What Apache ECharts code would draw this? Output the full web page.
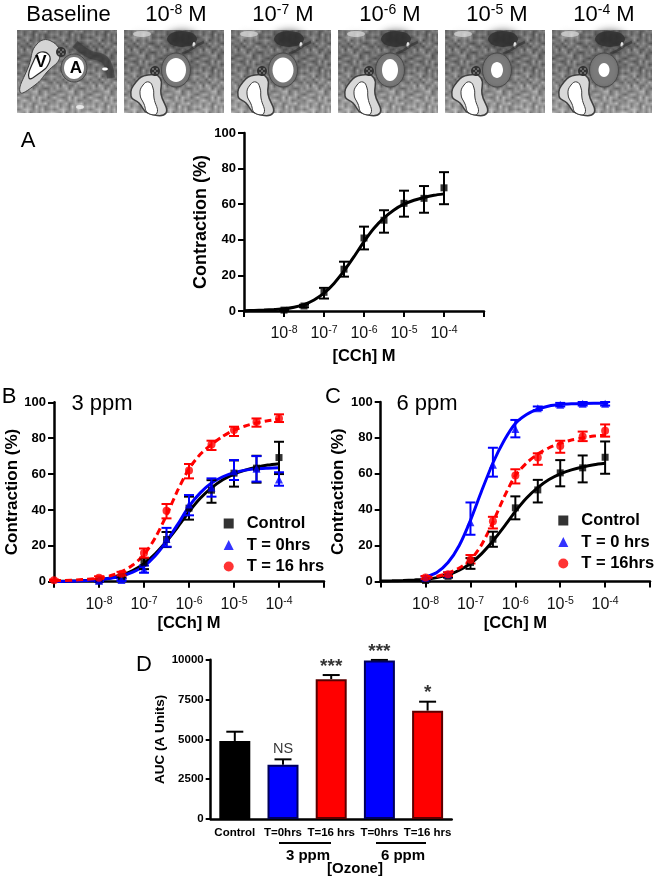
<!DOCTYPE html>
<html>
<head>
<meta charset="utf-8">
<style>html,body{margin:0;padding:0;background:#fff}#c{width:661px;height:880px}</style>
<script src="https://cdn.jsdelivr.net/npm/echarts@6/dist/echarts.min.js"></script>
</head>
<body>
<div id="c"></div>
<script>
const FONT = '"Liberation Sans", Arial, sans-serif';

// Dose points (log10 molar) and readings shared by the panels
const doseX = [-8, -7.5, -7, -6.5, -6, -5.5, -5, -4.5, -4];
const curveX = [-9, -8.75, -8.5, -8.25, -8, -7.75, -7.5, -7.25, -7, -6.75, -6.5, -6.25, -6, -5.75, -5.5, -5.25, -5, -4.75, -4.5, -4.25, -4];

const controlY  = [0.5, 2.8, 10.5, 23.5, 41, 51, 60.5, 63.3, 69.2];
const controlHi = [1, 3.5, 13, 27.7, 47.4, 56.6, 67.6, 70.2, 78];
const controlLo = [0, 2.1, 7, 19.3, 34.6, 44, 53, 55.2, 60];
const controlFit = [0.2, 0.3, 0.5, 0.8, 1.2, 2.1, 3.6, 6.2, 10, 15.5, 22.5, 30.5, 39, 46.5, 52.3, 56.8, 60, 62.2, 63.8, 65, 65.8];

// Panel B, 3 ppm
const b0X  = [-8, -7.5, -7, -6.5, -6, -5.5, -5, -4.5, -4];
const b0Y  = [0.5, 1, 7, 24, 43, 52.5, 61.5, 63, 57];
const b0Hi = [1, 1.6, 9, 30, 48.3, 57.6, 67.8, 70, 61];
const b0Lo = [0, 0.4, 5, 19.5, 37, 47.4, 56.7, 55.8, 53.5];
const b0Fit = [0.1, 0.2, 0.4, 0.7, 1.1, 1.9, 3.2, 5.4, 8.7, 14.5, 22.5, 32, 42, 49.5, 55, 58.5, 60.8, 62.2, 63, 63.3, 63.5];

const b16X  = [-9, -8, -7.5, -7, -6.5, -6, -5.5, -5, -4.5, -4];
const b16Y  = [0.8, 2.2, 4.5, 16, 39.5, 62, 76.5, 84.5, 89, 91];
const b16Hi = [1.2, 3, 5.5, 18.5, 43.3, 65.6, 78.6, 86.4, 91, 93.3];
const b16Lo = [0.4, 1.5, 3.5, 13.4, 35.3, 57.6, 73.4, 81.2, 86.4, 89];
const b16Fit = [0.5, 0.7, 1, 1.4, 2, 3.3, 5.5, 9.3, 15, 24.5, 37, 51, 63, 71, 76.5, 81, 84.5, 86.8, 88.5, 89.7, 90.5];

// Panel C, 6 ppm
const c0X  = [-8, -7.5, -7, -6.5, -6, -5.5, -5, -4.5, -4];
const c0Y  = [2, 4, 33, 65, 85, 96.5, 98.5, 99, 99];
const c0Hi = [2.8, 5, 44, 74.5, 90, 97.5, 99.5, 100, 100];
const c0Lo = [1.2, 3, 26, 58.4, 80.3, 95.5, 97.5, 98, 98];
const c0FitX = [-8, -7.75, -7.5, -7.25, -7, -6.75, -6.5, -6.25, -6, -5.75, -5.5, -5.25, -5, -4.75, -4.5, -4.25, -3.93];
const c0Fit = [2.5, 5, 10.5, 20, 34, 50.5, 66, 78.5, 88, 93, 96, 97.8, 98.6, 99, 99.2, 99.3, 99.3];

const c16X  = [-8, -7.5, -7, -6.5, -6, -5.5, -5, -4.5, -4];
const c16Y  = [2.2, 4, 12, 33.5, 59, 69, 75.5, 80.8, 84];
const c16Hi = [3, 5, 14.7, 36, 62.5, 71.4, 78.4, 83.5, 87.5];
const c16Lo = [1.4, 3, 10, 29.5, 54.6, 65, 71.7, 78.2, 80.7];
const c16FitX = [-8, -7.75, -7.5, -7.25, -7, -6.75, -6.5, -6.25, -6, -5.75, -5.5, -5.25, -5, -4.75, -4.5, -4.25, -4];
const c16Fit = [1.8, 2.8, 4.5, 7.5, 12, 20.5, 33, 47, 59, 66, 71, 74.5, 77, 78.8, 80, 81, 81.5];

// Panel D
const barCats = ['Control', 'T=0hrs', 'T=16 hrs', 'T=0hrs', 'T=16 hrs'];
const barVals = [4900, 3400, 8780, 9950, 6800];
const barErrs = [5480, 3745, 9037, 9985, 7364];
const barMarks = ['', 'NS', '***', '***', '*'];
const barColors = ['#000000', '#0000ff', '#ff0000', '#0000ff', '#ff0000'];
const barEdges = ['#000000', '#00005a', '#5a0000', '#00005a', '#5a0000'];

// Header labels
const doseExponents = ['-8', '-7', '-6', '-5', '-4'];
const arterySizes = [[10, 12], [10.5, 12.5], [8, 11], [6, 8], [5.5, 7]];

const BLUE = '#0000ff', RED = '#ff0000', BLACK = '#000000';

function zip(a, b) { return a.map((v, i) => [v, b[i]]); }
function zip3(a, b, c) { return a.map((v, i) => [v, b[i], c[i]]); }

function tile() {
  const rows = ['6a48c25b9e37','9d3a71f4826c','27be93a5d148','c85f16a3b79e','4a92d7e8316b','b3671c95fa42',
                '8e1fa43c6d97','5c79e2b8413a','a4368df17c59','17cb59a36e84','d8625f3e9a17','3ae94b7c2586'];
  const n = rows.length, scale = 3;
  const small = document.createElement('canvas');
  small.width = small.height = n * 3;
  const s = small.getContext('2d');
  for (let oy = 0; oy < 3; oy++) for (let ox = 0; ox < 3; ox++) {
    rows.forEach((r, y) => r.split('').forEach((h, x) => {
      const v = 78 + parseInt(h, 16) * 7;
      s.fillStyle = 'rgb(' + v + ',' + v + ',' + v + ')';
      s.fillRect(ox * n + x, oy * n + y, 1, 1);
    }));
  }
  const cv = document.createElement('canvas');
  cv.width = cv.height = n * scale;
  const g = cv.getContext('2d');
  g.imageSmoothingEnabled = true;
  g.drawImage(small, -n * scale, -n * scale, 3 * n * scale, 3 * n * scale);
  return cv;
}
const TEX = { image: tile(), repeat: 'repeat' };

function ell(cx, cy, rx, ry, fill, extra) {
  return Object.assign({ type: 'ellipse', shape: { cx, cy, rx, ry }, style: { fill } }, extra || {});
}
function poly(points, fill, stroke, w, blur) {
  return { type: 'polygon', shape: { points, smooth: 0.5 },
    style: { fill, stroke, lineWidth: w || 0, shadowColor: blur ? fill : 'transparent', shadowBlur: blur || 0 } };
}
function soft(fill, opacity, blur) { return { style: { fill, opacity, shadowColor: fill, shadowBlur: blur } }; }
function band(points, width, opacity) {
  return { type: 'polyline', shape: { points, smooth: 0.4 },
    style: { stroke: '#333333', lineWidth: width, fill: 'none', opacity, shadowColor: '#333', shadowBlur: 5 } };
}
function nerve(x, y) {
  return [ell(x, y, 5, 5, '#333333')].concat([[-2, -2], [2, -2], [-2, 2], [2, 2], [0, 0]].map(
    d => ell(x + d[0], y + d[1], 0.8, 0.8, '#b5b5b5')));
}
function panelBase() {
  return [
    { type: 'rect', shape: { x: 0, y: 0, width: 100, height: 83 }, style: { fill: TEX } },
    { type: 'rect', shape: { x: 0, y: 0, width: 100, height: 83 }, style: { fill: {
      type: 'linear', x: 0, y: 0, x2: 0, y2: 1,
      colorStops: [{ offset: 0, color: 'rgba(70,70,70,0.3)' }, { offset: 0.45, color: 'rgba(70,70,70,0.25)' }, { offset: 1, color: 'rgba(255,255,255,0.2)' }] } } }
  ];
}
function micrograph(x, y, art) {
  const kids = panelBase().concat([
    ell(58, 9, 15, 8, '#2e2e2e', soft('#2e2e2e', 0.8, 8)),
    ell(18, 4, 9, 3, '#e0e0e0', soft('#e0e0e0', 0.65, 6)),
    ell(70, 15, 1.5, 3, '#ffffff'),
    band([[58, 24], [66, 20], [72, 16], [80, 12]], 2.5, 0.7),
    ell(52, 40, 14.5, 17, '#7a7a7a', { style: { fill: '#7a7a7a', stroke: '#4a4a4a', lineWidth: 1, shadowColor: '#555', shadowBlur: 3 } }),
    ell(52, 40, art[0], art[1], '#ffffff'),
    poly([[7, 66], [12, 52], [24, 45], [36, 48], [37, 64], [42, 83], [24, 83], [15, 73]], '#d8d8d8', '#404040', 1.5),
    poly([[16, 64], [19, 55], [25, 52], [29, 58], [30, 68], [33, 83], [24, 83], [20, 74]], '#ffffff', '#3a3a3a', 1)
  ]).concat(nerve(31, 41));
  return { type: 'group', x, y, children: kids };
}
function baselinePanel(x, y) {
  const kids = panelBase().concat([
    band([[58, 14], [72, 24], [88, 30], [94, 48]], 8, 0.55),
    ell(88, 39, 3, 1.5, '#ffffff'),
    ell(63, 77, 4, 2, '#e8e8e8', soft('#e8e8e8', 1, 3)),
    poly([[3, 62], [12, 35], [20, 14], [34, 11], [43, 26], [30, 42], [18, 55]], '#d4d4d4', '#444444', 1),
    poly([[12, 48], [18, 28], [24, 22], [32, 25], [32, 33], [24, 42]], '#ffffff', '#2a2a2a', 1.2),
    ell(57, 38, 13, 14, '#7a7a7a', { style: { fill: '#7a7a7a', stroke: '#4a4a4a', lineWidth: 1 } }),
    ell(57, 38, 10, 11, '#ffffff')
  ]).concat(nerve(44, 22)).concat([
    { type: 'text', style: { text: 'V', x: 24, y: 32, align: 'center', verticalAlign: 'middle', font: 'bold 17px ' + FONT, fill: '#000' } },
    { type: 'text', style: { text: 'A', x: 59, y: 38, align: 'center', verticalAlign: 'middle', font: 'bold 17px ' + FONT, fill: '#000' } }
  ]);
  return { type: 'group', x, y, children: kids };
}
function plainText(text, x, y, size, weight) {
  return { type: 'text', style: { text, x, y, align: 'center', verticalAlign: 'middle', font: (weight || 'normal') + ' ' + size + 'px ' + FONT, fill: '#000' } };
}
function powerText(exp, x, y) {
  return { type: 'text', style: { text: '{a|10}{b|' + exp + '}{a| M}', x, y, align: 'center', verticalAlign: 'middle',
    rich: { a: { fontSize: 22, fontFamily: FONT, fill: '#000', lineHeight: 24 },
            b: { fontSize: 14, fontFamily: FONT, fill: '#000', verticalAlign: 'top', lineHeight: 16 } } } };
}

function xAxisFor(gridIndex, nameGap) {
  return {
    type: 'value', gridIndex, min: -9, max: -3, interval: 1, name: '[CCh] M', nameLocation: 'middle', nameGap,
    nameTextStyle: { fontFamily: FONT, fontWeight: 'bold', fontSize: 16.5, color: '#000' },
    axisLine: { onZero: false, lineStyle: { color: '#000', width: 2.5 } },
    axisTick: { length: 6, lineStyle: { color: '#000', width: 2 } },
    splitLine: { show: false },
    axisLabel: {
      margin: 14, showMinLabel: true, showMaxLabel: true,
      formatter: v => (v > -9 && v < -3) ? '{a|10}{b|' + v + '}' : '',
      rich: { a: { fontSize: 16, fontFamily: FONT, color: '#111', lineHeight: 18 },
              b: { fontSize: 10.5, fontFamily: FONT, color: '#111', verticalAlign: 'top', lineHeight: 14 } }
    }
  };
}
function yAxisFor(gridIndex, name, nameGap, nameSize) {
  return {
    type: 'value', gridIndex, min: 0, max: 100, interval: 20, name, nameLocation: 'middle', nameGap,
    nameTextStyle: { fontFamily: FONT, fontWeight: 'bold', fontSize: nameSize, color: '#000' },
    axisLine: { show: true, onZero: false, lineStyle: { color: '#000', width: 2.5 } },
    axisTick: { show: true, length: 6, lineStyle: { color: '#000', width: 2 } },
    splitLine: { show: false },
    axisLabel: { margin: 8, fontFamily: FONT, fontWeight: 'bold', fontSize: 13, color: '#000' }
  };
}
function errorBars(ax, x, lo, hi, color) {
  return {
    type: 'custom', xAxisIndex: ax, yAxisIndex: ax, clip: false, silent: true, z: 3,
    data: zip3(x, lo, hi), encode: { x: 0, y: [1, 2] },
    renderItem(p, api) {
      const l = api.coord([api.value(0), api.value(1)]), h = api.coord([api.value(0), api.value(2)]);
      const st = { stroke: color, lineWidth: 2, fill: 'none' };
      const line = (x1, y1, x2, y2) => ({ type: 'line', shape: { x1, y1, x2, y2 }, style: st });
      return { type: 'group', children: [
        line(l[0], l[1], h[0], h[1]), line(l[0] - 5, l[1], l[0] + 5, l[1]), line(h[0] - 5, h[1], h[0] + 5, h[1])
      ] };
    }
  };
}
function fit(ax, x, y, color, dashed, name) {
  return { type: 'line', name, xAxisIndex: ax, yAxisIndex: ax, data: zip(x, y), showSymbol: false, smooth: 0.25, clip: false, z: 2,
    lineStyle: { color, width: 3, type: dashed ? [7, 4] : 'solid' } };
}
function dots(ax, name, x, y, color, symbol, size) {
  return { type: 'scatter', name, xAxisIndex: ax, yAxisIndex: ax, data: zip(x, y), symbol, symbolSize: size, clip: false, z: 4, itemStyle: { color } };
}
function group(ax, name, x, y, lo, hi, fitX, fitY, color, symbol, size, dashed) {
  return [
    fit(ax, fitX, fitY, color, dashed, name + ' fit'),
    errorBars(ax, x, lo, hi, color),
    dots(ax, name, x, y, color, symbol, size)
  ];
}
function legendFor(left, top, names) {
  return { orient: 'vertical', left, top, itemWidth: 10, itemHeight: 10, itemGap: 4.5, data: names, selectedMode: false,
    textStyle: { fontFamily: FONT, fontWeight: 'bold', fontSize: 16.5, color: '#000', padding: [0, 0, 0, 8] } };
}

const chart = echarts.init(document.getElementById('c'), null, { renderer: 'canvas' });
const series = [].concat(
  group(0, 'Control', doseX, controlY, controlLo, controlHi, curveX, controlFit, BLACK, 'rect', 7, false),
  group(1, 'Control', doseX, controlY, controlLo, controlHi, curveX, controlFit, BLACK, 'rect', 7, false),
  group(1, 'T = 0hrs', b0X, b0Y, b0Lo, b0Hi, curveX, b0Fit, BLUE, 'triangle', 8, false),
  group(1, 'T = 16 hrs', b16X, b16Y, b16Lo, b16Hi, curveX, b16Fit, RED, 'circle', 8, true),
  group(2, 'Control', doseX, controlY, controlLo, controlHi, curveX, controlFit, BLACK, 'rect', 7, false),
  group(2, 'T = 0 hrs', c0X, c0Y, c0Lo, c0Hi, c0FitX, c0Fit, BLUE, 'triangle', 8, false),
  group(2, 'T = 16hrs', c16X, c16Y, c16Lo, c16Hi, c16FitX, c16Fit, RED, 'circle', 8, true),
  [
    { type: 'bar', name: 'AUC', xAxisIndex: 3, yAxisIndex: 3, barWidth: 31, z: 2,
      data: barVals.map((v, i) => ({ value: v, itemStyle: { color: barColors[i], borderColor: barEdges[i], borderWidth: 2 } })) },
    { type: 'custom', xAxisIndex: 3, yAxisIndex: 3, clip: false, silent: true, z: 1,
      data: barVals.map((v, i) => [i, v, barErrs[i]]), encode: { x: 0, y: [1, 2] },
      renderItem(p, api) {
        const b = api.coord([api.value(0), api.value(1)]), t = api.coord([api.value(0), api.value(2)]);
        const st = { stroke: '#000', lineWidth: 2, fill: 'none' };
        return { type: 'group', children: [
          { type: 'line', shape: { x1: b[0], y1: b[1], x2: t[0], y2: t[1] }, style: st },
          { type: 'line', shape: { x1: t[0] - 8.5, y1: t[1], x2: t[0] + 8.5, y2: t[1] }, style: st }
        ] };
      } },
    { type: 'scatter', xAxisIndex: 3, yAxisIndex: 3, symbolSize: 0, silent: true, z: 5,
      data: barErrs.map((v, i) => ({
        value: [i, v],
        label: { show: barMarks[i] !== '', position: 'top', distance: barMarks[i] === 'NS' ? 3 : -1, formatter: barMarks[i],
          fontFamily: FONT, color: '#000', fontSize: barMarks[i] === 'NS' ? 14.5 : 19, fontWeight: barMarks[i] === 'NS' ? 'normal' : 'bold' }
      })) }
  ]
);

chart.setOption({
  animation: false,
  backgroundColor: '#ffffff',
  grid: [
    { left: 244, top: 133, width: 240, height: 178 },
    { left: 54, top: 402.3, width: 270, height: 179.4 },
    { left: 380.7, top: 402, width: 269.3, height: 179.4 },
    { left: 210.7, top: 659.7, width: 241, height: 159.3 }
  ],
  xAxis: [
    xAxisFor(0, 37), xAxisFor(1, 33), xAxisFor(2, 34),
    { type: 'category', gridIndex: 3, data: barCats,
      axisLine: { onZero: false, lineStyle: { color: '#000', width: 2.5 } },
      axisTick: { alignWithLabel: true, length: 5, lineStyle: { color: '#000', width: 2 } },
      axisLabel: { interval: 0, margin: 8, fontFamily: FONT, fontWeight: 'bold', fontSize: 11.5, color: '#000' } }
  ],
  yAxis: [
    yAxisFor(0, 'Contraction (%)', 33, 18), yAxisFor(1, 'Contraction (%)', 31, 17), yAxisFor(2, 'Contraction (%)', 29.5, 17),
    { type: 'value', gridIndex: 3, min: 0, max: 10000, interval: 2500, name: 'AUC (A Units)', nameLocation: 'middle', nameGap: 43,
      nameTextStyle: { fontFamily: FONT, fontWeight: 'bold', fontSize: 13.5, color: '#000' },
      axisLine: { show: true, onZero: false, lineStyle: { color: '#000', width: 2.5 } },
      axisTick: { show: true, length: 5, lineStyle: { color: '#000', width: 2 } },
      splitLine: { show: false },
      axisLabel: { margin: 7, fontFamily: FONT, fontWeight: 'bold', fontSize: 11.5, color: '#000', formatter: v => String(v) } }
  ],
  legend: [
    legendFor(218.7, 510, ['Control', 'T = 0hrs', 'T = 16 hrs']),
    legendFor(553.3, 507, ['Control', 'T = 0 hrs', 'T = 16hrs'])
  ],
  graphic: [
    baselinePanel(17, 30),
    micrograph(124, 30, arterySizes[0]),
    micrograph(231, 30, arterySizes[1]),
    micrograph(338, 30, arterySizes[2]),
    micrograph(445, 30, arterySizes[3]),
    micrograph(552, 30, arterySizes[4]),
    plainText('Baseline', 68.5, 15, 22),
    powerText(doseExponents[0], 176, 15),
    powerText(doseExponents[1], 283, 15),
    powerText(doseExponents[2], 390, 15),
    powerText(doseExponents[3], 497, 15),
    powerText(doseExponents[4], 604, 15),
    plainText('A', 28, 141, 22),
    plainText('B', 9, 397, 22),
    plainText('C', 333, 397, 22),
    plainText('D', 144, 665, 22),
    plainText('3 ppm', 102, 404, 22),
    plainText('6 ppm', 427, 404, 22),
    { type: 'line', shape: { x1: 279, y1: 843, x2: 331, y2: 843 }, style: { stroke: '#000', lineWidth: 2 } },
    { type: 'line', shape: { x1: 376, y1: 843, x2: 426, y2: 843 }, style: { stroke: '#000', lineWidth: 2 } },
    plainText('3 ppm', 308, 856, 15, 'bold'),
    plainText('6 ppm', 403, 856, 15, 'bold'),
    plainText('[Ozone]', 355, 869, 15, 'bold')
  ],
  series
});
</script>
</body>
</html>
